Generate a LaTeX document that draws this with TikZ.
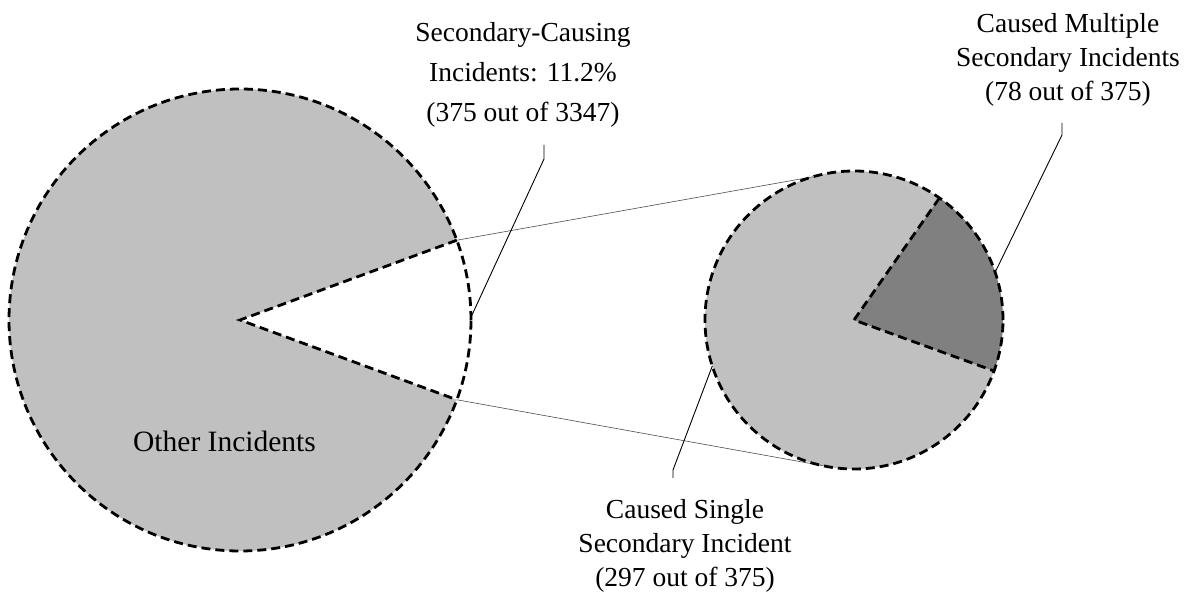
\documentclass[tikz,border=0pt]{standalone}
\usepackage{fontspec}
\setmainfont{Liberation Serif}
\usetikzlibrary{calc}
\definecolor{lightpie}{RGB}{192,192,192}
\definecolor{darkpie}{RGB}{128,128,128}
\tikzset{
  piefill/.style={fill=lightpie},
  darkfill/.style={fill=darkpie},
  pieedge/.style={draw=black, line width=2.8pt, dash pattern=on 9pt off 5pt},
  thinlink/.style={draw=black!70, line width=0.6pt},
  leader/.style={draw=black, line width=0.9pt},
  lbl/.style={align=center, inner sep=0pt, font=\fontsize{27.5}{34}\selectfont},
  lblwide/.style={align=center, inner sep=0pt, font=\fontsize{27.5}{40}\selectfont}
}
\begin{document}
\begin{tikzpicture}[x=1pt,y=1pt]
\useasboundingbox (0,0) rectangle (1195,595);
% centres
\coordinate (B) at (240,275);
\coordinate (S) at (854,275);
% big pie
\fill[piefill] (B) -- ++(20.2:231) arc[start angle=20.2, end angle=339.8, radius=231] -- cycle;
\coordinate (Bu) at ($(B)+(20.2:231)$);
\coordinate (Bl) at ($(B)+(-20.2:231)$);
% small pie
\fill[piefill] (S) circle[radius=149];
\fill[darkfill] (S) -- ++(-20:149) arc[start angle=-20, end angle=55, radius=149] -- cycle;
\coordinate (Su) at ($(S)+(106:149)$);
\coordinate (Sl) at ($(S)+(-102:149)$);
% connecting lines
\draw[thinlink] (Bu) -- (Su);
\draw[thinlink] (Bl) -- (Sl);
% dashed outlines
\draw[pieedge] (B) circle[radius=231];
\draw[pieedge] (Bu) -- (B) -- (Bl);
\draw[pieedge] (S) circle[radius=149];
\draw[pieedge] ($(S)+(55:149)$) -- (S) -- ($(S)+(-20:149)$);
% labels
\node[lblwide, anchor=north] (lsec) at (523,573) {Secondary-Causing\\Incidents: 11.2\%\\(375 out of 3347)};
\node[lbl, anchor=north] (lmul) at (1068,582) {Caused Multiple\\Secondary Incidents\\(78 out of 375)};
\node[lbl, anchor=north] (lsin) at (685,96) {Caused Single\\Secondary Incident\\(297 out of 375)};
\node[lbl, anchor=base, font=\fontsize{29.5}{34}\selectfont] (loth) at (224.5,143) {Other Incidents};
% leaders
\coordinate (k1) at (544,436);
\coordinate (k2) at (1062,460);
\coordinate (k3) at (673,125);
\draw[leader] (544,450) -- (k1) -- ($(B)+(0.7:231)$);
\draw[leader] (1062,472) -- (k2) -- ($(S)+(18.7:149)$);
\draw[leader] (673,117) -- (k3) -- ($(S)+(198:149)$);
\end{tikzpicture}
\end{document}
